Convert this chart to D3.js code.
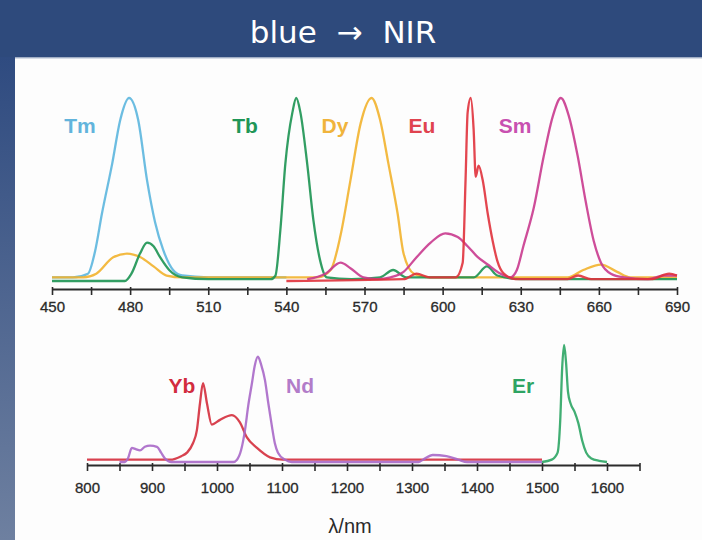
<!DOCTYPE html>
<html>
<head>
<meta charset="utf-8">
<script src="https://cdn.jsdelivr.net/npm/d3@7"></script>
<style>
body { margin: 0; background: #fff; }
svg { display: block; }
</style>
</head>
<body>
<svg id="viz"></svg>
<script>
width = 702;
height = 540;

// visible emission spectra, [wavelength nm, normalised intensity]
var tm = [[450,0.02],[458,0.02],[463.8,0.04],[466.5,0.16],[469.2,0.37],[473.1,0.64],[476.2,0.88],[479.6,1.0],[483.1,0.88],[486.5,0.55],[489.6,0.32],[492.7,0.17],[496.5,0.06],[500,0.03],[510,0.02],[540,0.02]];
var tb = [[450,0.0],[478,0.0],[480.5,0.04],[483.8,0.15],[486.5,0.21],[489,0.19],[491.5,0.13],[495,0.06],[500,0.02],[510,0.01],[534,0.01],[535.8,0.03],[537.7,0.28],[539.6,0.64],[542.3,0.92],[543.8,1.0],[545.4,0.92],[548,0.64],[550.4,0.33],[553,0.11],[555.5,0.02],[565,0.01],[576,0.02],[581,0.06],[586,0.02],[612,0.02],[617,0.08],[621,0.03],[630,0.01],[690,0.01]];
var dy = [[450,0.02],[462,0.02],[467,0.04],[473.5,0.13],[478.8,0.15],[484,0.13],[489,0.08],[494,0.03],[500,0.02],[552,0.02],[557,0.06],[560.8,0.25],[564.6,0.55],[568.5,0.86],[572.7,1.0],[576,0.88],[579.2,0.64],[582.7,0.37],[585,0.15],[589,0.04],[595,0.02],[648,0.02],[654,0.06],[660.8,0.09],[667,0.05],[672,0.02],[690,0.02]];
var eu = [[540,0.0],[585,0.01],[590,0.04],[595,0.02],[605,0.02],[607.7,0.1],[608.8,0.55],[609.6,0.92],[610.8,1.0],[611.9,0.83],[612.7,0.57],[613.8,0.63],[615.4,0.55],[617.3,0.37],[619.2,0.22],[621,0.11],[623.5,0.04],[628,0.01],[648,0.01],[652,0.03],[657,0.01],[680,0.01],[687,0.04],[690,0.03]];
var sm = [[548,0.01],[555,0.04],[560.8,0.1],[564.6,0.07],[569.6,0.02],[575,0.01],[580,0.02],[585,0.05],[590,0.13],[595.4,0.21],[601,0.26],[605.8,0.24],[609.6,0.19],[613.5,0.13],[617.3,0.09],[621,0.05],[626,0.02],[628.5,0.06],[631,0.19],[635,0.40],[638.8,0.68],[642.3,0.9],[645.4,1.0],[648.5,0.9],[651.9,0.68],[655,0.43],[658,0.22],[660.8,0.10],[664.6,0.04],[669.6,0.02],[678.8,0.01],[685,0.03],[690,0.03]];

// NIR emission spectra
var yb = [[800,0.02],[900,0.02],[927.7,0.02],[945,0.05],[953.8,0.08],[963,0.16],[969,0.27],[973.8,0.5],[978.5,0.675],[984.6,0.5],[992,0.32],[1004.6,0.36],[1023,0.40],[1035,0.34],[1046,0.21],[1061.5,0.12],[1081.5,0.04],[1101.5,0.02],[1500,0.02]];
var nd = [[850,0.0],[858,0.0],[863,0.03],[869,0.12],[875,0.11],[881.5,0.10],[889,0.13],[897,0.14],[907.7,0.13],[914,0.08],[920,0.03],[930,0.0],[1025,0.0],[1030.8,0.02],[1037,0.1],[1043,0.27],[1048,0.48],[1053.8,0.675],[1058,0.82],[1063,0.9],[1068,0.83],[1073.8,0.70],[1079,0.5],[1084.6,0.30],[1089,0.16],[1093.8,0.08],[1104.6,0.02],[1115,0.0],[1310,0.0],[1317,0.02],[1332,0.06],[1353,0.05],[1371,0.02],[1385,0.0],[1500,0.0]];
var er = [[1500,0.0],[1515,0.02],[1524,0.08],[1528,0.35],[1531,0.8],[1534,1.0],[1537,0.85],[1540,0.6],[1544,0.5],[1550,0.43],[1556,0.33],[1562,0.18],[1568,0.08],[1576,0.03],[1588,0.01],[1600,0.0]];

var topTicks = [450,465,480,495,510,525,540,555,570,585,600,615,630,645,660,675,690];
var topLabels = [450,480,510,540,570,600,630,660,690];
var botTicks = [800,850,900,950,1000,1050,1100,1150,1200,1250,1300,1350,1400,1450,1500,1550,1600,1650];
var botLabels = [800,900,1000,1100,1200,1300,1400,1500,1600];

var topSeries = [
    {name: "Tm", data: tm, color: "#5cb6de", label: "#62b4dc", lx: 80},
    {name: "Dy", data: dy, color: "#f2b22e", label: "#f0b43c", lx: 335},
    {name: "Tb", data: tb, color: "#1c9352", label: "#1f9657", lx: 245},
    {name: "Sm", data: sm, color: "#c93a8e", label: "#c850b0", lx: 515},
    {name: "Eu", data: eu, color: "#e0323c", label: "#e0434f", lx: 422}
];
var botSeries = [
    {name: "Yb", data: yb, color: "#d42d3c", label: "#d22c3e", lx: 182},
    {name: "Nd", data: nd, color: "#a868c8", label: "#b27cc9", lx: 300},
    {name: "Er", data: er, color: "#2ca564", label: "#2ea463", lx: 523}
];

var svg = d3.select("#viz").attr("width", width).attr("height", height);

// background: header band, left strip, white panel
var defs = svg.append("defs");
var grad = defs.append("linearGradient").attr("id", "strip")
    .attr("x1", 0).attr("y1", 0).attr("x2", 0).attr("y2", 1);
grad.append("stop").attr("offset", "0%").attr("stop-color", "#2f4b80");
grad.append("stop").attr("offset", "100%").attr("stop-color", "#6e80a0");

svg.append("rect").attr("x", 0).attr("y", 0).attr("width", width).attr("height", 58).attr("fill", "#2e4a7c");
svg.append("rect").attr("x", 0).attr("y", 57).attr("width", 15).attr("height", height - 57).attr("fill", "url(#strip)");
svg.append("rect").attr("x", 15).attr("y", 58).attr("width", width - 15).attr("height", height - 58).attr("fill", "#fdfdfd");
svg.append("line").attr("x1", 15).attr("x2", width).attr("y1", 58).attr("y2", 58)
    .attr("stroke", "#c9d1de").attr("stroke-width", 1.5);

svg.append("text").attr("x", 343).attr("y", 43)
    .attr("text-anchor", "middle").attr("fill", "#ffffff")
    .style("font-family", "'DejaVu Sans', sans-serif").style("font-size", "31px")
    .style("word-spacing", "10px")
    .text("blue \u2192 NIR");

// scales
var xTop = d3.scaleLinear().domain([450, 690]).range([52, 677]);
var yTop = d3.scaleLinear().domain([0, 1]).range([281, 98]);
var xBot = d3.scaleLinear().domain([800, 1650]).range([87, 639.5]);
var yBot = d3.scaleLinear().domain([0, 1]).range([462, 345]);

var drawPanel = (series, x, y, axisY, ticks, labels, labelY, labelDy) => {
    var line = d3.line().x(d => x(d[0])).y(d => y(d[1])).curve(d3.curveMonotoneX);

    svg.append("g")
        .attr("transform", `translate(0,${axisY})`)
        .call(d3.axisBottom(x).tickValues(ticks).tickSize(6).tickSizeOuter(0)
            .tickFormat(d => labels.indexOf(d) >= 0 ? d : ""))
        .call(g => g.select(".domain").attr("stroke", "#2b2b2b").attr("stroke-width", 2))
        .call(g => g.selectAll(".tick line").attr("stroke", "#2b2b2b").attr("stroke-width", 1.6).attr("y1", -2))
        .call(g => g.selectAll(".tick text").attr("fill", "#2a2a2a").attr("dy", labelDy)
            .attr("stroke", "#2a2a2a").attr("stroke-width", 0.3)
            .style("font-family", "'Liberation Sans', Arial, sans-serif").style("font-size", "15px"));

    svg.append("g").selectAll("path")
        .data(series)
        .join("path")
        .attr("d", d => line(d.data))
        .attr("fill", "none")
        .attr("stroke", d => d.color)
        .attr("stroke-width", 2.3)
        .attr("stroke-opacity", 0.9)
        .attr("stroke-linejoin", "round");

    svg.append("g").selectAll("text")
        .data(series)
        .join("text")
        .attr("x", d => d.lx)
        .attr("y", labelY)
        .attr("text-anchor", "middle")
        .attr("fill", d => d.label)
        .style("font-family", "'Liberation Sans', Arial, sans-serif")
        .style("font-size", "21px")
        .style("font-weight", "bold")
        .text(d => d.name);
};

drawPanel(topSeries, xTop, yTop, 289, topTicks, topLabels, 133, "0.9em");
drawPanel(botSeries, xBot, yBot, 465, botTicks, botLabels, 393, "1.25em");

svg.append("text").attr("x", 350).attr("y", 533)
    .attr("text-anchor", "middle").attr("fill", "#2a2a2a")
    .style("font-family", "'Liberation Sans', Arial, sans-serif").style("font-size", "20px")
    .text("\u03bb/nm");
</script>
</body>
</html>
